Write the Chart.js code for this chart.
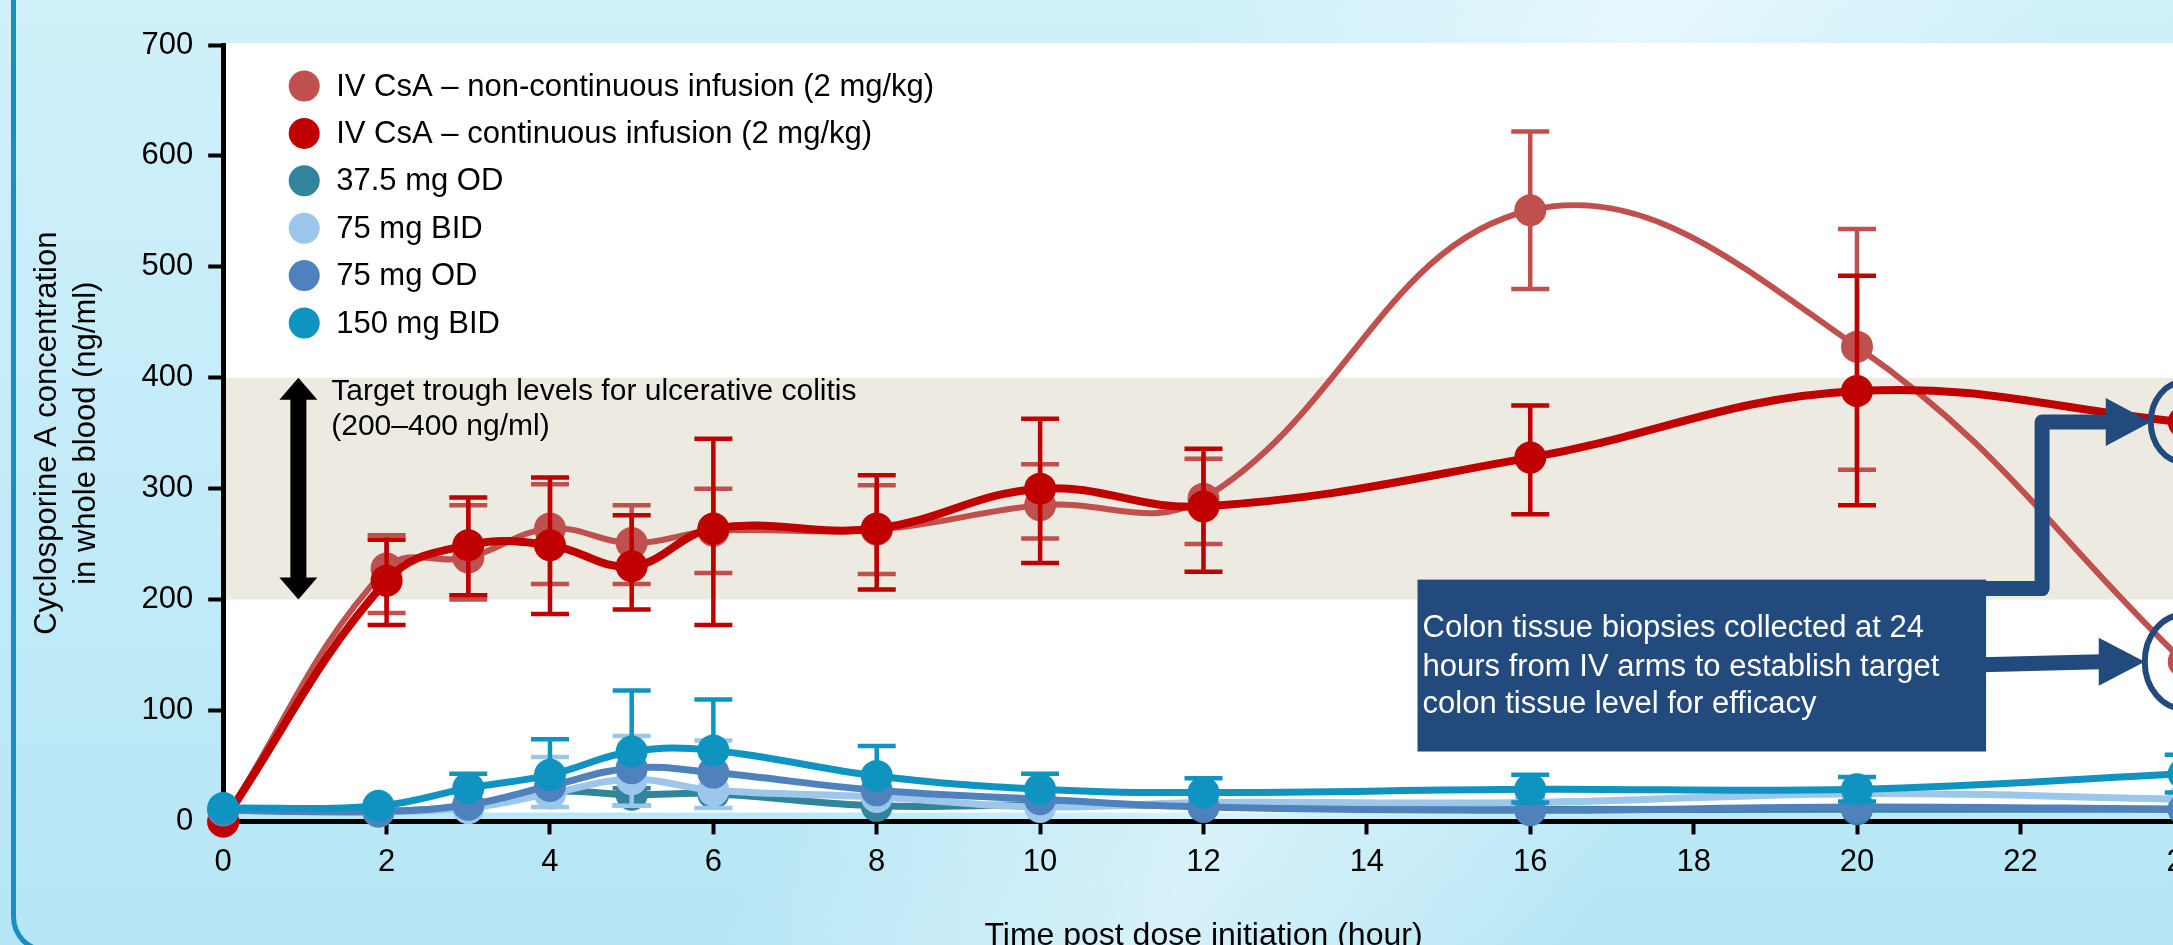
<!DOCTYPE html>
<html>
<head>
<meta charset="utf-8">
<script src="https://cdn.jsdelivr.net/npm/chart.js@4.4.0/dist/chart.umd.min.js"></script>
<style>
  html, body { margin: 0; padding: 0; }
  body {
    width: 2173px; height: 945px; overflow: hidden; position: relative;
    background:
      linear-gradient(118deg, rgba(255,255,255,0) 45%, rgba(255,255,255,0.45) 62%, rgba(255,255,255,0) 78%),
      linear-gradient(180deg, #D0F1FA 0%, #C4ECF8 45%, #B6E6F5 100%);
  }
  #frame {
    position: absolute; left: 11px; top: -60px; width: 2400px; height: 1013px;
    border-left: 5px solid #1590C0; border-bottom: 5px solid #1590C0;
    border-bottom-left-radius: 36px; box-sizing: border-box;
  }
  #wrap { position: absolute; left: 0; top: 0; }
</style>
</head>
<body>
<div id="frame"></div>
<div id="wrap"><canvas id="pkChart" width="2210" height="965" style="width:2210px;height:965px"></canvas></div>
<script>
// sampling times (hours)
const ivTimes = [0, 2, 3, 4, 5, 6, 8, 10, 12, 16, 20, 24];
const oralTimes = [0, 1.9, 3, 4, 5, 6, 8, 10, 12, 16, 20, 24];

// IV CsA - non-continuous infusion
const nonContMean = [0, 228, 238, 264, 251, 262, 263, 285, 291, 551, 428, 144];
const nonContUpper = [null, 258, 285, 304, 285, 300, 303, 322, 327, 622, 534, null];
const nonContLower = [null, 188, 200, 214, 214, 224, 223, 255, 250, 480, 317, null];

// IV CsA - continuous infusion
const contMean = [0, 217, 249, 249, 230, 264, 264, 300, 284, 328, 388, 360];
const contUpper = [null, 254, 292, 310, 276, 345, 312, 363, 336, 375, 492, null];
const contLower = [null, 177, 204, 187, 191, 177, 209, 233, 225, 277, 285, null];

// oral arms
const od375Mean = [10, 9, 14, 27, 24, 25, 14, 15, 14, 11, 11, 11];
const od375Upper = [null, null, null, null, 30, null, null, null, null, null, null, null];
const od375Lower = [null, null, null, null, 14, null, null, null, null, null, null, null];

const bid75Mean = [10, 9, 12, 25, 38, 28, 22, 13, 17, 17, 25, 20];
const bid75Upper = [null, null, null, 58, 77, 73, null, null, null, null, null, null];
const bid75Lower = [null, null, null, 13, 14, 12, null, null, null, null, null, null];

const od75Mean = [10, 9, 15, 32, 48, 44, 28, 20, 13, 10, 13, 11];

const bid150Mean = [12, 14, 30, 42, 63, 64, 41, 29, 26, 29, 29, 43];
const bid150Upper = [null, null, 43, 74, 118, 110, 68, 43, 39, 42, 40, 60];
const bid150Lower = [null, null, null, null, null, null, null, null, null, 17, 18, 26];

const seriesLabels = [
  "IV CsA \u2013 non-continuous infusion (2 mg/kg)",
  "IV CsA \u2013 continuous infusion (2 mg/kg)",
  "37.5 mg OD",
  "75 mg BID",
  "75 mg OD",
  "150 mg BID"
];
const seriesColors = ["#C0504D", "#C00000", "#31849B", "#9CC6EA", "#4F81BD", "#0F94C2"];

const bandLow = 200, bandHigh = 400;
const yTicks = { min: 0, max: 700, step: 100 };
const xTicks = { min: 0, max: 24, step: 2 };

const FONT = "'Liberation Sans', Arial, sans-serif";
const NAVY = "#224A7D";

function pts(times, vals) {
  return times.map((t, i) => ({ x: t, y: vals[i] }));
}

function makeSet(i, times, mean, up, low, width, order) {
  return {
    label: seriesLabels[i],
    data: pts(times, mean),
    errUp: up,
    errLow: low,
    borderColor: seriesColors[i],
    backgroundColor: seriesColors[i],
    pointBackgroundColor: seriesColors[i],
    borderWidth: width,
    pointRadius: 16,
    pointBorderWidth: 0,
    tension: 0.4,
    clip: false,
    order: order
  };
}

// background: white plot area + target band, arrow, band text
const decor = {
  id: "decor",
  beforeDraw(chart) {
    const { ctx, chartArea: a, scales: { y } } = chart;
    ctx.save();
    ctx.fillStyle = "#ffffff";
    ctx.fillRect(a.left, a.top - 2, chart.width - a.left, y.getPixelForValue(8) - a.top + 2);
    const yHi = y.getPixelForValue(bandHigh), yLo = y.getPixelForValue(bandLow);
    ctx.fillStyle = "#EDEBE1";
    ctx.fillRect(a.left, yHi, chart.width - a.left, yLo - yHi);
    ctx.restore();
  },
  beforeDatasetsDraw(chart) {
    const { ctx, chartArea: a, scales: { x, y } } = chart;
    const yHi = y.getPixelForValue(bandHigh), yLo = y.getPixelForValue(bandLow);
    const ax = x.getPixelForValue(0.92);
    ctx.save();
    // double headed arrow
    ctx.fillStyle = "#000";
    const hl = 22, hw = 19, sw = 8;
    ctx.beginPath();
    ctx.moveTo(ax, yHi);
    ctx.lineTo(ax + hw, yHi + hl);
    ctx.lineTo(ax + sw, yHi + hl);
    ctx.lineTo(ax + sw, yLo - hl);
    ctx.lineTo(ax + hw, yLo - hl);
    ctx.lineTo(ax, yLo);
    ctx.lineTo(ax - hw, yLo - hl);
    ctx.lineTo(ax - sw, yLo - hl);
    ctx.lineTo(ax - sw, yHi + hl);
    ctx.lineTo(ax - hw, yHi + hl);
    ctx.closePath();
    ctx.fill();
    // band text
    ctx.font = "30px " + FONT;
    ctx.textBaseline = "middle";
    ctx.fillText("Target trough levels for ulcerative colitis", a.left + 108, yHi + 14);
    ctx.fillText("(200\u2013400 ng/ml)", a.left + 108, yHi + 49);

    // legend
    ctx.font = "31px " + FONT;
    seriesLabels.forEach((lab, i) => {
      const ly = a.top + 41 + i * 47.4;
      ctx.fillStyle = seriesColors[i];
      ctx.beginPath();
      ctx.arc(a.left + 81, ly, 15.5, 0, Math.PI * 2);
      ctx.fill();
      ctx.fillStyle = "#000";
      ctx.fillText(lab, a.left + 113, ly + 1);
    });
    ctx.restore();
  },
  afterDatasetsDraw(chart) {
    const { ctx, scales: { x, y } } = chart;
    const bx0 = x.getPixelForValue(14.62), bx1 = x.getPixelForValue(21.58);
    const by0 = y.getPixelForValue(218), by1 = y.getPixelForValue(63);
    const x24 = x.getPixelForValue(24);
    const cUp = y.getPixelForValue(contMean[contMean.length - 1]);
    const cLow = y.getPixelForValue(nonContMean[nonContMean.length - 1]);
    ctx.save();
    ctx.strokeStyle = NAVY;
    ctx.fillStyle = NAVY;
    // upper elbow connector
    ctx.lineWidth = 15;
    ctx.lineJoin = "round";
    const vx = bx1 + 56, headBaseU = x24 - 33 - 45;
    ctx.beginPath();
    ctx.moveTo(bx0 + 100, by0 + 9);
    ctx.lineTo(vx, by0 + 9);
    ctx.lineTo(vx, cUp);
    ctx.lineTo(headBaseU + 2, cUp);
    ctx.stroke();
    ctx.beginPath();
    ctx.moveTo(headBaseU, cUp - 24);
    ctx.lineTo(x24 - 33, cUp);
    ctx.lineTo(headBaseU, cUp + 24);
    ctx.closePath();
    ctx.fill();
    // lower connector
    const headBaseL = x24 - 39 - 46;
    ctx.beginPath();
    ctx.moveTo(bx1 - 5, cLow + 3);
    ctx.lineTo(headBaseL + 2, cLow);
    ctx.stroke();
    ctx.beginPath();
    ctx.moveTo(headBaseL, cLow - 24);
    ctx.lineTo(x24 - 39, cLow);
    ctx.lineTo(headBaseL, cLow + 24);
    ctx.closePath();
    ctx.fill();
    // box
    ctx.fillRect(bx0, by0, bx1 - bx0, by1 - by0);
    ctx.fillStyle = "#fff";
    ctx.font = "31px " + FONT;
    ctx.textBaseline = "middle";
    ctx.fillText("Colon tissue biopsies collected at 24", bx0 + 5, by0 + 49);
    ctx.fillText("hours from IV arms to establish target", bx0 + 5, by0 + 88);
    ctx.fillText("colon tissue level for efficacy", bx0 + 5, by0 + 125);
    // circles at 24 h
    ctx.lineWidth = 6;
    ctx.beginPath();
    ctx.ellipse(x24, cUp, 33, 40, 0, 0, Math.PI * 2);
    ctx.stroke();
    ctx.beginPath();
    ctx.ellipse(x24, cLow, 39, 47, 0, 0, Math.PI * 2);
    ctx.stroke();
    ctx.restore();
  }
};

// error bars, drawn just under each dataset
const errorBars = {
  id: "errorBars",
  beforeDatasetDraw(chart, args) {
    const ds = chart.data.datasets[args.index];
    if (!ds.errUp) return;
    const { ctx, scales: { x, y } } = chart;
    ctx.save();
    ctx.strokeStyle = ds.borderColor;
    ctx.lineWidth = 4.5;
    ds.data.forEach((p, i) => {
      const hi = ds.errUp[i], lo = ds.errLow[i];
      if (hi == null && lo == null) return;
      const px = x.getPixelForValue(p.x);
      const top = y.getPixelForValue(hi != null ? hi : p.y);
      const bot = y.getPixelForValue(lo != null ? lo : p.y);
      ctx.beginPath();
      ctx.moveTo(px, top);
      ctx.lineTo(px, bot);
      if (hi != null) { ctx.moveTo(px - 19, top); ctx.lineTo(px + 19, top); }
      if (lo != null) { ctx.moveTo(px - 19, bot); ctx.lineTo(px + 19, bot); }
      ctx.stroke();
    });
    ctx.restore();
  }
};

const ctx = document.getElementById("pkChart").getContext("2d");

const pkChart = new Chart(ctx, {
  type: "line",
  data: {
    datasets: [
      makeSet(0, ivTimes, nonContMean, nonContUpper, nonContLower, 6, 6),
      makeSet(1, ivTimes, contMean, contUpper, contLower, 8, 5),
      makeSet(2, oralTimes, od375Mean, od375Upper, od375Lower, 7, 4),
      makeSet(3, oralTimes, bid75Mean, bid75Upper, bid75Lower, 7, 3),
      makeSet(4, oralTimes, od75Mean, null, null, 7, 2),
      makeSet(5, oralTimes, bid150Mean, bid150Upper, bid150Lower, 7, 1)
    ]
  },
  options: {
    responsive: false,
    animation: false,
    layout: { padding: { left: 0, top: 45, right: 25, bottom: 0 } },
    plugins: {
      legend: { display: false },
      tooltip: { enabled: false }
    },
    scales: {
      x: {
        type: "linear",
        min: xTicks.min,
        max: xTicks.max,
        ticks: { stepSize: xTicks.step, color: "#000", font: { size: 31, family: FONT }, padding: 9, maxRotation: 0 },
        grid: { drawOnChartArea: false, tickLength: 13, tickWidth: 4, tickColor: "#000" },
        border: { color: "#000", width: 5 },
        title: {
          display: true,
          text: "Time post dose initiation (hour)",
          color: "#000",
          font: { size: 32, family: FONT },
          padding: { top: 27, bottom: 10 }
        }
      },
      y: {
        min: yTicks.min,
        max: yTicks.max,
        ticks: { stepSize: yTicks.step, color: "#000", font: { size: 31, family: FONT }, padding: 15 },
        grid: { drawOnChartArea: false, tickLength: 15, tickWidth: 4, tickColor: "#000" },
        border: { color: "#000", width: 5 },
        title: {
          display: true,
          text: ["Cyclosporine A concentration", "in whole blood (ng/ml)"],
          color: "#000",
          font: { size: 31, family: FONT, lineHeight: 1.25 },
          padding: { top: 28, bottom: 21 }
        }
      }
    }
  },
  plugins: [decor, errorBars]
});
</script>
</body>
</html>
